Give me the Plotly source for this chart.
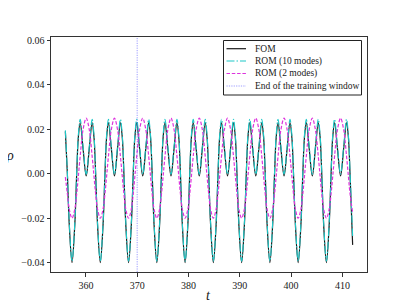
import plotly.graph_objects as go

# time samples (start, then per cycle key points)
t = [356.00, 356.38, 356.76,
     357.30, 357.84, 358.22, 358.52, 358.89, 359.44, 360.06, 360.67, 361.22, 361.59, 361.89, 362.27,
     362.81, 363.35, 363.73, 364.03, 364.40, 364.95, 365.57, 366.18, 366.73, 367.10, 367.40, 367.78,
     368.32, 368.86, 369.24, 369.54, 369.91, 370.46, 371.08, 371.69, 372.24, 372.61, 372.91, 373.29,
     373.83, 374.37, 374.75, 375.05, 375.42, 375.97, 376.59, 377.20, 377.75, 378.12, 378.42, 378.80,
     379.34, 379.88, 380.26, 380.56, 380.93, 381.48, 382.10, 382.71, 383.26, 383.63, 383.93, 384.31,
     384.85, 385.39, 385.77, 386.07, 386.44, 386.99, 387.61, 388.22, 388.77, 389.14, 389.44, 389.82,
     390.36, 390.90, 391.28, 391.58, 391.95, 392.50, 393.12, 393.73, 394.28, 394.65, 394.95, 395.33,
     395.87, 396.41, 396.79, 397.09, 397.46, 398.01, 398.63, 399.24, 399.79, 400.16, 400.46, 400.84,
     401.38, 401.92, 402.30, 402.60, 402.97, 403.52, 404.14, 404.75, 405.30, 405.67, 405.97, 406.35,
     406.89, 407.43, 407.81, 408.11, 408.48, 409.03, 409.65, 410.26, 410.81, 411.18, 411.48, 412.00]

fom = [0.0190, 0.0007, -0.0229,
       -0.0400, -0.0229, 0.0007, 0.0161, 0.0230, 0.0115, -0.0010, 0.0115, 0.0230, 0.0161, 0.0007, -0.0229,
       -0.0400, -0.0229, 0.0007, 0.0161, 0.0230, 0.0115, -0.0010, 0.0115, 0.0230, 0.0161, 0.0007, -0.0229,
       -0.0400, -0.0229, 0.0007, 0.0161, 0.0230, 0.0115, -0.0010, 0.0115, 0.0230, 0.0161, 0.0007, -0.0229,
       -0.0400, -0.0229, 0.0007, 0.0161, 0.0230, 0.0115, -0.0010, 0.0115, 0.0230, 0.0161, 0.0007, -0.0229,
       -0.0400, -0.0229, 0.0007, 0.0161, 0.0230, 0.0115, -0.0010, 0.0115, 0.0230, 0.0161, 0.0007, -0.0229,
       -0.0400, -0.0229, 0.0007, 0.0161, 0.0230, 0.0115, -0.0010, 0.0115, 0.0230, 0.0161, 0.0007, -0.0229,
       -0.0400, -0.0229, 0.0007, 0.0161, 0.0230, 0.0115, -0.0010, 0.0115, 0.0230, 0.0161, 0.0007, -0.0229,
       -0.0400, -0.0229, 0.0007, 0.0161, 0.0230, 0.0115, -0.0010, 0.0115, 0.0230, 0.0161, 0.0007, -0.0229,
       -0.0400, -0.0229, 0.0007, 0.0161, 0.0230, 0.0115, -0.0010, 0.0115, 0.0230, 0.0161, 0.0007, -0.0229,
       -0.0400, -0.0229, 0.0007, 0.0161, 0.0230, 0.0115, -0.0010, 0.0115, 0.0230, 0.0161, 0.0007, -0.0320]

rom10 = [0.0195, 0.0014, -0.0220,
         -0.0393, -0.0220, 0.0014, 0.0172, 0.0245, 0.0125, -0.0002, 0.0125, 0.0245, 0.0172, 0.0014, -0.0220,
         -0.0393, -0.0220, 0.0014, 0.0172, 0.0245, 0.0125, -0.0002, 0.0125, 0.0245, 0.0172, 0.0014, -0.0220,
         -0.0393, -0.0220, 0.0014, 0.0172, 0.0245, 0.0125, -0.0002, 0.0125, 0.0245, 0.0172, 0.0014, -0.0220,
         -0.0393, -0.0220, 0.0014, 0.0172, 0.0245, 0.0125, -0.0002, 0.0125, 0.0245, 0.0172, 0.0014, -0.0220,
         -0.0393, -0.0220, 0.0014, 0.0172, 0.0245, 0.0125, -0.0002, 0.0125, 0.0245, 0.0172, 0.0014, -0.0220,
         -0.0393, -0.0220, 0.0014, 0.0172, 0.0245, 0.0125, -0.0002, 0.0125, 0.0245, 0.0172, 0.0014, -0.0220,
         -0.0393, -0.0220, 0.0014, 0.0172, 0.0245, 0.0125, -0.0002, 0.0125, 0.0245, 0.0172, 0.0014, -0.0220,
         -0.0393, -0.0220, 0.0014, 0.0172, 0.0245, 0.0125, -0.0002, 0.0125, 0.0245, 0.0172, 0.0014, -0.0220,
         -0.0393, -0.0220, 0.0014, 0.0172, 0.0245, 0.0125, -0.0002, 0.0125, 0.0245, 0.0172, 0.0014, -0.0220,
         -0.0393, -0.0220, 0.0014, 0.0172, 0.0245, 0.0125, -0.0002, 0.0125, 0.0245, 0.0172, 0.0014, -0.0280]

rom2 = [-0.0015, -0.0088, -0.0159,
        -0.0200, -0.0159, -0.0088, -0.0014, 0.0079, 0.0197, 0.0250, 0.0197, 0.0079, -0.0014, -0.0088, -0.0159,
        -0.0200, -0.0159, -0.0088, -0.0014, 0.0079, 0.0197, 0.0250, 0.0197, 0.0079, -0.0014, -0.0088, -0.0159,
        -0.0200, -0.0159, -0.0088, -0.0014, 0.0079, 0.0197, 0.0250, 0.0197, 0.0079, -0.0014, -0.0088, -0.0159,
        -0.0200, -0.0159, -0.0088, -0.0014, 0.0079, 0.0197, 0.0250, 0.0197, 0.0079, -0.0014, -0.0088, -0.0159,
        -0.0200, -0.0159, -0.0088, -0.0014, 0.0079, 0.0197, 0.0250, 0.0197, 0.0079, -0.0014, -0.0088, -0.0159,
        -0.0200, -0.0159, -0.0088, -0.0014, 0.0079, 0.0197, 0.0250, 0.0197, 0.0079, -0.0014, -0.0088, -0.0159,
        -0.0200, -0.0159, -0.0088, -0.0014, 0.0079, 0.0197, 0.0250, 0.0197, 0.0079, -0.0014, -0.0088, -0.0159,
        -0.0200, -0.0159, -0.0088, -0.0014, 0.0079, 0.0197, 0.0250, 0.0197, 0.0079, -0.0014, -0.0088, -0.0159,
        -0.0200, -0.0159, -0.0088, -0.0014, 0.0079, 0.0197, 0.0250, 0.0197, 0.0079, -0.0014, -0.0088, -0.0159,
        -0.0200, -0.0159, -0.0088, -0.0014, 0.0079, 0.0197, 0.0250, 0.0197, 0.0079, -0.0014, -0.0088, -0.0175]

train_end = 370

series_names = ["FOM", "ROM (10 modes)", "ROM (2 modes)", "End of the training window"]

x_ticks = [360, 370, 380, 390, 400, 410]
y_ticks = [-0.04, -0.02, 0.00, 0.02, 0.04, 0.06]
y_tick_labels = ["\u22120.04", "\u22120.02", "0.00", "0.02", "0.04", "0.06"]
x_range = [353.2, 414.8]
y_range = [-0.0442, 0.0615]

serif = "Liberation Serif, DejaVu Serif, serif"
TXT = "#1a1a1a"

styles = [
    dict(color="#1a1a1a", width=1.2, dash="solid"),
    dict(color="#1CC8C8", width=1.1, dash="8px,2px,1.5px,2px"),
    dict(color="#DD33DD", width=1.2, dash="3.5px,1.8px"),
    dict(color="rgba(60,60,255,0.5)", width=1.0, dash="1.2px,1.2px"),
]

# the page body has an 8px default margin: lay out in page pixels, shift by it
OFF = 8
PAGE_W, PAGE_H = 407, 306
W, H = PAGE_W - OFF, PAGE_H - OFF
ML, MT = 51 - OFF, 37 - OFF
PW, PH = 316, 235
MR, MB = W - ML - PW, H - MT - PH


def px(xp):  # page pixel -> paper x
    return (xp - OFF - ML) / PW


def py(yp):  # page pixel -> paper y
    return (MT + PH - (yp - OFF)) / PH


fig = go.Figure()
fig.add_trace(go.Scatter(x=t, y=fom, mode="lines", name=series_names[0], showlegend=False,
                         line=dict(styles[0], shape="spline")))
fig.add_trace(go.Scatter(x=t, y=rom10, mode="lines", name=series_names[1], showlegend=False,
                         line=dict(styles[1], shape="spline")))
fig.add_trace(go.Scatter(x=t, y=rom2, mode="lines", name=series_names[2], showlegend=False,
                         line=dict(styles[2], shape="spline")))
fig.add_trace(go.Scatter(x=[train_end, train_end], y=y_range, mode="lines",
                         name=series_names[3], showlegend=False, line=styles[3]))

# custom compact legend (matplotlib-like): box, sample lines on an overlay axis, texts
shapes = [dict(type="rect", xref="paper", yref="paper",
               x0=px(223.5), x1=px(361.5), y0=py(95), y1=py(40.5),
               line=dict(color="#222222", width=1), fillcolor="white", layer="below")]
annotations = []
rows = [48.7, 61.0, 73.5, 86.0]
for name, st, ry in zip(series_names, styles, rows):
    fig.add_trace(go.Scatter(x=[px(226.5), px(246)], y=[py(ry), py(ry)], mode="lines",
                             xaxis="x2", yaxis="y2", showlegend=False, hoverinfo="skip",
                             line=st))
    annotations.append(dict(text=name, xref="paper", yref="paper",
                            x=px(252.5), y=py(ry), xanchor="left", yanchor="middle",
                            showarrow=False, font=dict(family=serif, size=9.5, color=TXT)))

# axis titles
annotations.append(dict(text="<i>t</i>", xref="paper", yref="paper", x=px(208), y=py(295),
                        xanchor="center", yanchor="middle", showarrow=False,
                        font=dict(family=serif, size=14, color=TXT)))
annotations.append(dict(text="<i>\u03c1</i>", xref="paper", yref="paper", x=px(10), y=py(155),
                        xanchor="center", yanchor="middle", showarrow=False,
                        font=dict(family=serif, size=14, color=TXT)))

axis_common = dict(showgrid=False, zeroline=False, showline=True, mirror=True,
                   linecolor="#333333", linewidth=1, ticks="outside", ticklen=3.5,
                   tickcolor="#333333", automargin=False,
                   tickfont=dict(family=serif, size=10, color=TXT))

fig.update_layout(
    width=W, height=H,
    margin=dict(l=ML, r=MR, t=MT, b=MB, pad=0),
    paper_bgcolor="white", plot_bgcolor="white",
    showlegend=False,
    shapes=shapes,
    annotations=annotations,
    xaxis=dict(range=x_range, tickvals=x_ticks, **axis_common),
    yaxis=dict(range=y_range, tickvals=y_ticks, ticktext=y_tick_labels, **axis_common),
    xaxis2=dict(overlaying="x", anchor="y2", range=[0, 1], visible=False, fixedrange=True),
    yaxis2=dict(overlaying="y", anchor="x2", range=[0, 1], visible=False, fixedrange=True),
)

fig.write_html("out.html")
